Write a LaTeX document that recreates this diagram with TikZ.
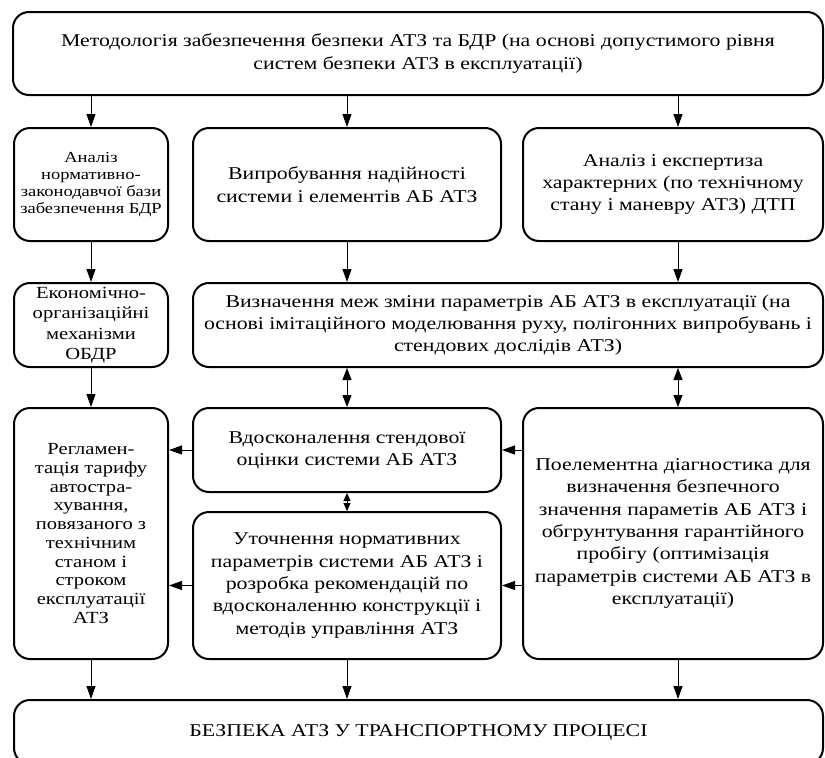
\documentclass[tikz,border=0pt]{standalone}
\usepackage{fontspec}
\setmainfont{Liberation Serif}[FakeStretch=1.21]
\usetikzlibrary{arrows.meta}

\newcommand{\mainsz}{\fontsize{18}{22.3}\selectfont}

\tikzset{
  blk/.style={draw, line width=2pt, rounded corners=16pt, align=center,
    inner sep=0pt, font=\mainsz},
  arr/.style={line width=1pt, -{Triangle[width=9pt,length=13pt]}},
  darr/.style={line width=1pt, {Triangle[width=9pt,length=12pt]}-{Triangle[width=9pt,length=12pt]}},
  sarr/.style={line width=1pt, {Triangle[width=7pt,length=8pt]}-{Triangle[width=7pt,length=8pt]}}
}

\begin{document}
\begin{tikzpicture}[x=1pt, y=-1pt]
\useasboundingbox (0,0) rectangle (825,758);

% top block
\node[blk, minimum width=810pt, minimum height=83pt] (top) at (418,53.5)
  {Методологія забезпечення безпеки АТЗ та БДР (на основі допустимого рівня\\систем безпеки АТЗ в експлуатації)};

% second row
\node[blk, minimum width=154pt, minimum height=113pt, font=\fontsize{15.3}{16.8}\selectfont] (anl) at (91,184.5)
  {Аналіз\\нормативно-\\законодавчої бази\\забезпечення БДР};
\node[blk, minimum width=308pt, minimum height=113pt] (tst) at (347,184.5)
  {Випробування надійності\\системи і елементів АБ АТЗ};
\node[blk, minimum width=300pt, minimum height=113pt] (exp) at (673,184.5)
  {Аналіз і експертиза\\характерних (по технічному\\стану і маневру АТЗ) ДТП};

% third row
\node[blk, minimum width=154pt, minimum height=84pt, font=\fontsize{17}{20.5}\selectfont] (eco) at (91,325)
  {Економічно-\\організаційні\\механізми\\ОБДР};
\node[blk, minimum width=630pt, minimum height=84pt] (lim) at (508,325)
  {Визначення меж зміни параметрів АБ АТЗ в експлуатації (на\\основі імітаційного моделювання руху, полігонних випробувань і\\стендових дослідів АТЗ)};

% fourth row
\node[blk, minimum width=154pt, minimum height=251pt, font=\fontsize{17}{18.7}\selectfont] (reg) at (91,533.5)
  {Регламен-\\тація тарифу\\автостра-\\хування,\\повязаного з\\технічним\\станом і\\строком\\експлуатації\\АТЗ};
\node[blk, minimum width=308pt, minimum height=84pt] (imp) at (347,450)
  {Вдосконалення стендової\\оцінки системи АБ АТЗ};
\node[blk, minimum width=308pt, minimum height=147pt] (ref) at (347,585.5)
  {Уточнення нормативних\\параметрів системи АБ АТЗ і\\розробка рекомендацій по\\вдосконаленню конструкції і\\методів управління АТЗ};
\node[blk, minimum width=300pt, minimum height=251pt] (dia) at (673,533.5)
  {Поелементна діагностика для\\визначення безпечного\\значення параметів АБ АТЗ і\\обгрунтування гарантійного\\пробігу (оптимізація\\параметрів системи АБ АТЗ в\\експлуатації)};

% bottom block
\node[blk, minimum width=809pt, minimum height=64pt] (saf) at (418.5,732)
  {БЕЗПЕКА АТЗ У ТРАНСПОРТНОМУ ПРОЦЕСІ};

% connectors from the top block
\draw[arr] (top.south -| anl.north) -- (anl.north);
\draw[arr] (top.south -| tst.north) -- (tst.north);
\draw[arr] ([xshift=5pt]top.south -| exp.north) -- ([xshift=5pt]exp.north);

% second to third row
\draw[arr] (anl.south) -- (eco.north);
\draw[arr] (tst.south) -- (tst.south |- lim.north);
\draw[arr] ([xshift=5pt]exp.south) -- ([xshift=5pt]exp.south |- lim.north);

% third to fourth row
\draw[arr] (eco.south) -- (reg.north);
\draw[darr] (lim.south -| imp.north) -- (imp.north);
\draw[darr] ([xshift=5pt]lim.south -| dia.north) -- ([xshift=5pt]dia.north);
\draw[sarr] (imp.south) -- (ref.north);

% horizontal links in the fourth row
\draw[arr] (imp.east -| dia.west) -- (imp.east);
\draw[arr] (ref.east -| dia.west) -- (ref.east);
\draw[arr] (imp.west) -- (imp.west -| reg.east);
\draw[arr] (ref.west) -- (ref.west -| reg.east);

% into the bottom block
\draw[arr] (reg.south) -- (reg.south |- saf.north);
\draw[arr] (ref.south) -- (ref.south |- saf.north);
\draw[arr] ([xshift=5pt]dia.south) -- ([xshift=5pt]dia.south |- saf.north);
\end{tikzpicture}
\end{document}
